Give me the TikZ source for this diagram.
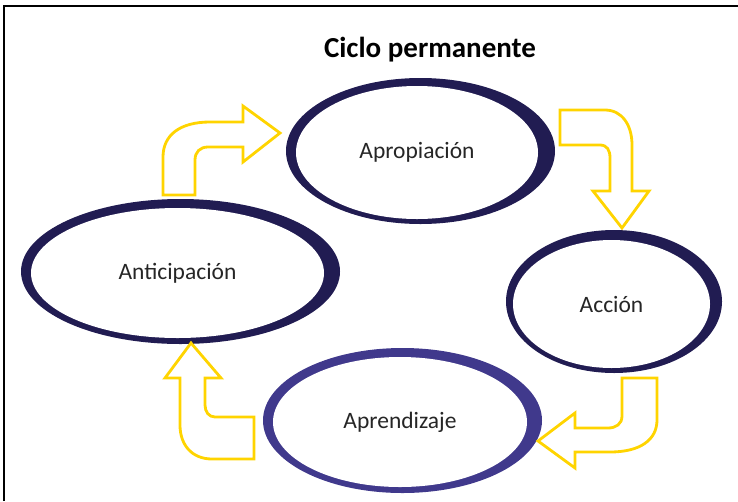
\documentclass[tikz,border=0pt]{standalone}
\usepackage{fontspec}
\setmainfont{Carlito}
\usetikzlibrary{shapes.geometric}
\definecolor{ringdark}{RGB}{33,28,82}
\definecolor{ringblue}{RGB}{64,57,140}
\definecolor{arrowgold}{RGB}{255,212,0}
\tikzset{
  stage/.style={ellipse,fill=white,inner sep=0pt,text=black!85,
    font=\fontsize{23.5}{28}\selectfont},
  bentarrow/.style={draw=arrowgold,line width=2.8pt,fill=white,line join=miter}
}
\begin{document}
\begin{tikzpicture}[x=1pt,y=-1pt]
\useasboundingbox (0,0) rectangle (738,501);
\draw[line width=1.8pt] (4,501) -- (4,6) -- (738,6);
\node[font=\bfseries\fontsize{29}{33}\selectfont,anchor=base] (titulo) at (430,57) {Ciclo permanente};

\fill[ringdark] (420.5,151) ellipse [x radius=134.5pt,y radius=73pt];
\node[stage,minimum width=242pt,minimum height=133pt] (apro) at (417,152.5) {Apropiación};
\fill[ringdark] (180.5,271.5) ellipse [x radius=159.5pt,y radius=72.5pt];
\node[stage,minimum width=293pt,minimum height=130pt] (anti) at (177.5,273) {Anticipación};
\fill[ringdark] (614,301.5) ellipse [x radius=108pt,y radius=71.5pt];
\node[stage,minimum width=197pt,minimum height=128pt] (acc) at (611.5,304) {Acción};
\fill[ringblue] (402.5,420.5) ellipse [x radius=139.5pt,y radius=72.5pt];
\node[stage,minimum width=254pt,minimum height=130pt] (apre) at (400,422) {Aprendizaje};

\draw[bentarrow] (163,195) -- (163,157) .. controls (163,135) and (180,122) .. (210,122)
  -- (243,122) -- (243,106) -- (280,133) -- (243,162) -- (243,147) -- (208,147)
  .. controls (200,147) and (195,152) .. (195,160) -- (195,195) -- cycle;
\draw[bentarrow] (560,110) -- (605,110) .. controls (622,110) and (632,125) .. (632,145)
  -- (632,191) -- (649,191) -- (622,228) -- (593,191) -- (610,191) -- (610,158)
  .. controls (610,150) and (607,145) .. (600,145) -- (560,145) -- cycle;
\draw[bentarrow] (622,378) -- (657,378) -- (657,420) .. controls (657,440) and (640,452) .. (610,452)
  -- (575,452) -- (575,468) -- (538,441) -- (575,413) -- (575,428) -- (608,428)
  .. controls (616,428) and (622,424) .. (622,416) -- cycle;
\draw[bentarrow] (254,417) -- (254,459) -- (212,459) .. controls (192,459) and (180,445) .. (180,425)
  -- (180,378) -- (165,378) -- (191,343) -- (221,378) -- (205,378) -- (205,405)
  .. controls (205,412) and (209,417) .. (215,417) -- cycle;
\end{tikzpicture}
\end{document}
